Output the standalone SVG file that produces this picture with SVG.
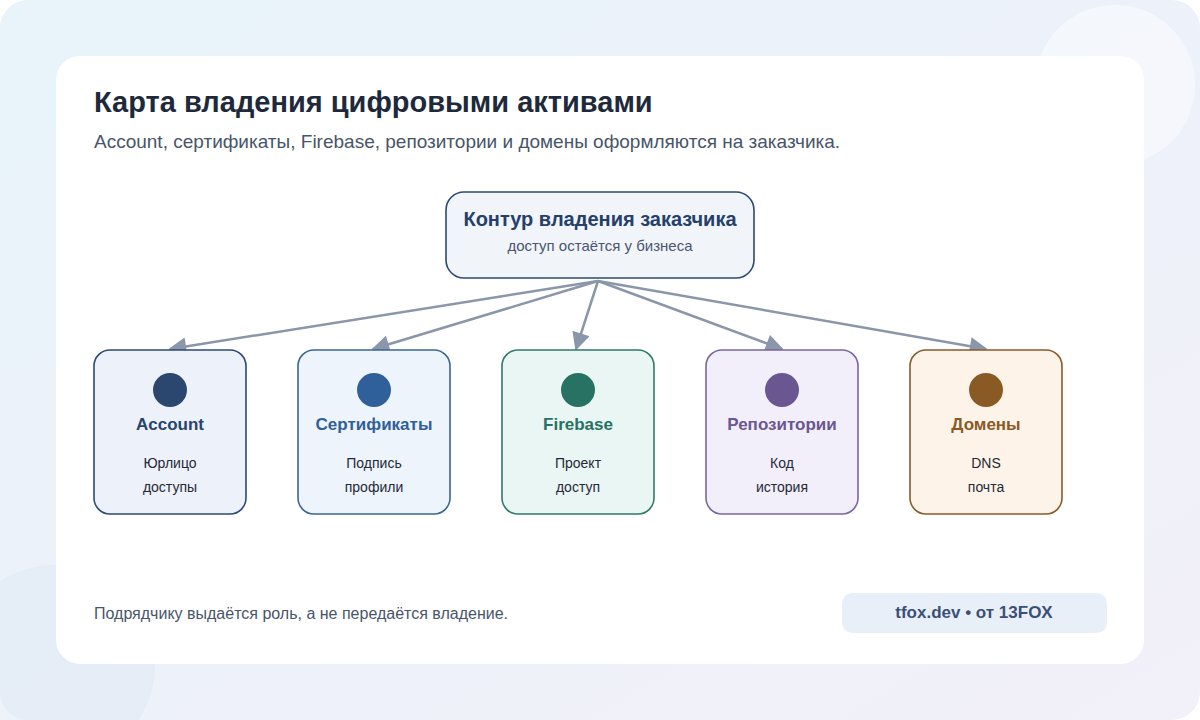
<svg xmlns="http://www.w3.org/2000/svg" width="1200" height="720" viewBox="0 0 1200 720">
<defs>
<linearGradient id="bg" x1="0" y1="0" x2="1" y2="1">
<stop offset="0" stop-color="#e8f3fa"/>
<stop offset="1" stop-color="#f2f0f9"/>
</linearGradient>
<marker id="ah" viewBox="0 0 10 10" refX="9" refY="5" markerWidth="20" markerHeight="18" markerUnits="userSpaceOnUse" orient="auto">
<path d="M0,0 L10,5 L0,10 Z" fill="#8a97ab"/>
</marker>
<style>
.t{font-family:"Liberation Sans",Arial,sans-serif}
.nl{font-size:17px;font-weight:bold;text-anchor:middle}
.ns{font-size:14px;fill:#1f2937;text-anchor:middle}
.box{stroke-width:1.6}
.conn{stroke:#8a97ab;stroke-width:2.5;fill:none;marker-end:url(#ah)}
</style>
</defs>
<rect x="0" y="0" width="1200" height="720" rx="28" fill="url(#bg)"/>
<circle cx="1115" cy="85" r="80" fill="#ffffff" opacity="0.45"/>
<circle cx="55" cy="665" r="100" fill="#dde8f3" opacity="0.5"/>
<rect x="56" y="56" width="1088" height="608" rx="24" fill="#ffffff"/>
<text class="t" x="94" y="112" font-size="29" font-weight="bold" fill="#1e293b">Карта владения цифровыми активами</text>
<text class="t" x="94" y="148" font-size="19" fill="#475569">Account, сертификаты, Firebase, репозитории и домены оформляются на заказчика.</text>
<g id="connectors">
<line class="conn" x1="598" y1="281" x2="170" y2="349"/>
<line class="conn" x1="598" y1="281" x2="373" y2="349"/>
<line class="conn" x1="598" y1="281" x2="576" y2="349"/>
<line class="conn" x1="598" y1="281" x2="782" y2="349"/>
<line class="conn" x1="598" y1="281" x2="986" y2="349"/>
</g>
<g id="root">
<rect class="box" x="446" y="192" width="308" height="86" rx="18" fill="#f1f5fa" stroke="#2c4a6e"/>
<text class="t" x="600" y="226" font-size="20" font-weight="bold" fill="#26406a" text-anchor="middle">Контур владения заказчика</text>
<text class="t" x="600" y="251" font-size="15" fill="#4a5670" text-anchor="middle">доступ остаётся у бизнеса</text>
</g>
<g id="account">
<rect class="box" x="94" y="350" width="152" height="164" rx="16" fill="#edf1f9" stroke="#2c4a72"/>
<circle cx="170" cy="390" r="17" fill="#2b4770"/>
<text class="t nl" x="170" y="430" fill="#27446e">Account</text>
<text class="t ns" x="170" y="468">Юрлицо</text>
<text class="t ns" x="170" y="492">доступы</text>
</g>
<g id="certs">
<rect class="box" x="298" y="350" width="152" height="164" rx="16" fill="#edf4fb" stroke="#3a6596"/>
<circle cx="374" cy="390" r="17" fill="#30609a"/>
<text class="t nl" x="374" y="430" fill="#30609a">Сертификаты</text>
<text class="t ns" x="374" y="468">Подпись</text>
<text class="t ns" x="374" y="492">профили</text>
</g>
<g id="firebase">
<rect class="box" x="502" y="350" width="152" height="164" rx="16" fill="#eaf6f3" stroke="#2f7a6a"/>
<circle cx="578" cy="390" r="17" fill="#277263"/>
<text class="t nl" x="578" y="430" fill="#277263">Firebase</text>
<text class="t ns" x="578" y="468">Проект</text>
<text class="t ns" x="578" y="492">доступ</text>
</g>
<g id="repos">
<rect class="box" x="706" y="350" width="152" height="164" rx="16" fill="#f2eefa" stroke="#7a65a0"/>
<circle cx="782" cy="390" r="17" fill="#6a5690"/>
<text class="t nl" x="782" y="430" fill="#6a5690">Репозитории</text>
<text class="t ns" x="782" y="468">Код</text>
<text class="t ns" x="782" y="492">история</text>
</g>
<g id="domains">
<rect class="box" x="910" y="350" width="152" height="164" rx="16" fill="#fdf3e8" stroke="#8a5a28"/>
<circle cx="986" cy="390" r="17" fill="#8a5a25"/>
<text class="t nl" x="986" y="430" fill="#8a5a25">Домены</text>
<text class="t ns" x="986" y="468">DNS</text>
<text class="t ns" x="986" y="492">почта</text>
</g>
<text class="t" x="94" y="619" font-size="16" fill="#475569">Подрядчику выдаётся роль, а не передаётся владение.</text>
<g id="badge">
<rect x="842" y="593" width="265" height="40" rx="10" fill="#e9eff8"/>
<text class="t" x="974" y="618" font-size="17" font-weight="bold" fill="#3a5077" text-anchor="middle">tfox.dev • от 13FOX</text>
</g>
</svg>
